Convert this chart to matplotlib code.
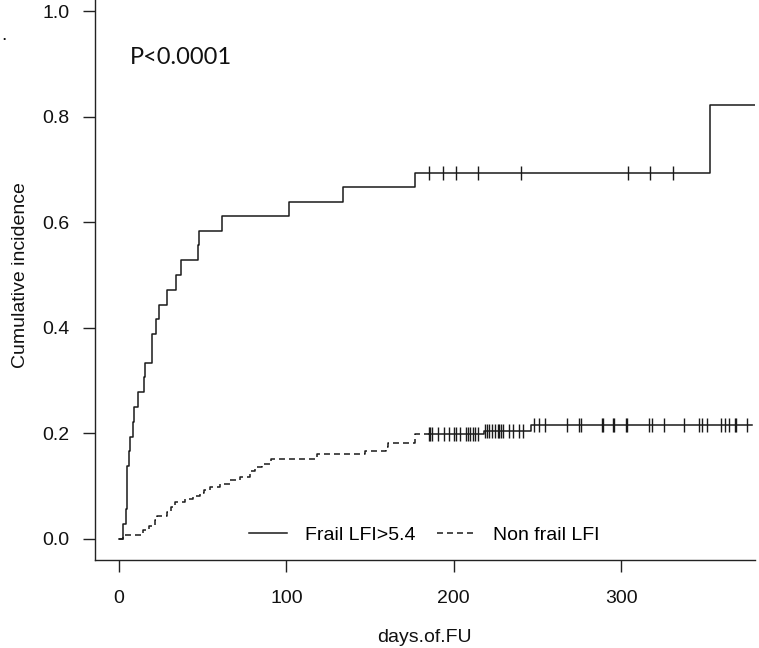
import numpy as np
import matplotlib
matplotlib.use("Agg")
import matplotlib.pyplot as plt

# ---- data ----
frail_times = [0, 2.7, 4.4, 5.1, 6.3, 6.9, 8.1, 9.1, 11.1, 14.7, 15.4, 19.7, 22.0, 23.7,
               28.7, 34.1, 36.9, 47.1, 47.9, 61.8, 101.7, 133.6, 176.6, 352.8, 385]
frail_cuminc = [0, 0.028, 0.056, 0.139, 0.167, 0.194, 0.222, 0.250, 0.278, 0.306, 0.333,
                0.389, 0.417, 0.444, 0.472, 0.500, 0.528, 0.556, 0.583, 0.611, 0.639,
                0.667, 0.694, 0.822, 0.822]
frail_censor = [185.1, 193.4, 201.4, 214.5, 239.9, 303.9, 317.0, 330.9]

nonfrail_times = [0, 2.7, 14.3, 18.2, 21.6, 23.0, 28.5, 31.0, 33.6, 39.5, 44.0, 48.5, 51.0,
                  54.4, 60.4, 66.3, 72.3, 78.3, 81.2, 85.2, 90.6, 118.4, 147.2, 159.7,
                  160.7, 176.6, 218.0, 246.0, 378]
nonfrail_cuminc = [0, 0.007, 0.016, 0.025, 0.035, 0.044, 0.051, 0.060, 0.069, 0.076, 0.082,
                   0.087, 0.092, 0.099, 0.104, 0.112, 0.118, 0.129, 0.136, 0.142, 0.152,
                   0.160, 0.166, 0.174, 0.181, 0.198, 0.205, 0.216, 0.216]
nonfrail_censor = [185.1, 185.9, 186.9, 190.5, 193.9, 197.0, 200.4, 201.2, 204.0, 207.2,
                   208.4, 209.8, 211.3, 212.9, 214.3, 218.9, 219.7, 221.3, 222.9, 224.9,
                   226.2, 227.2, 228.2, 229.2, 232.8, 235.2, 238.7, 241.5, 248.1, 251.1,
                   254.5, 267.9, 274.9, 275.9, 288.4, 289.2, 294.8, 295.8, 303.1, 303.7,
                   316.6, 318.6, 325.6, 337.5, 346.4, 348.0, 351.4, 359.4, 361.9, 364.3,
                   367.9, 368.6, 375.2]

group_labels = ["Frail LFI>5.4", "Non frail LFI"]
x_ticks = [0, 100, 200, 300]
y_ticks = [0.0, 0.2, 0.4, 0.6, 0.8, 1.0]
x_label = "days.of.FU"
y_label = "Cumulative incidence"
p_text = "P<0.0001"

# ---- figure ----
W, H = 759, 648
plt.rcParams['font.family'] = ['Liberation Sans', 'DejaVu Sans']
plt.rcParams['lines.scale_dashes'] = False
fig = plt.figure(figsize=(W / 100, H / 100), dpi=100)

left_px, right_px = 94.5, 754.5
bottom_px, top_px = 560.0, -10.0
ax = fig.add_axes([left_px / W, 1 - bottom_px / H,
                   (right_px - left_px) / W, (bottom_px - top_px) / H])

col = '#1a1a1a'
dash = (4.3, 2.9)

def censor_y(times, vals, cens):
    idx = np.searchsorted(np.asarray(times), np.asarray(cens), side='right') - 1
    return np.asarray(vals)[idx]

l1, = ax.step(frail_times, frail_cuminc, where='post', color=col, lw=1.1)
ax.plot(frail_censor, censor_y(frail_times, frail_cuminc, frail_censor), ls='none',
        marker='|', ms=10, mew=1.0, color=col)

# non-frail: dashed until the first censoring, where the dense marks make the
# reference line read as continuous
nt = np.asarray(nonfrail_times, dtype=float)
nv = np.asarray(nonfrail_cuminc, dtype=float)
c0 = min(nonfrail_censor)
k = np.searchsorted(nt, c0, side='right')
t_a = np.append(nt[:k], c0)
v_a = np.append(nv[:k], nv[k - 1])
t_b = np.insert(nt[k:], 0, c0)
v_b = np.insert(nv[k:], 0, nv[k - 1])
l2, = ax.step(t_a, v_a, where='post', color=col, lw=1.1, dashes=dash)
ax.step(t_b, v_b, where='post', color=col, lw=1.1)
ax.plot(nonfrail_censor, censor_y(nonfrail_times, nonfrail_cuminc, nonfrail_censor),
        ls='none', marker='|', ms=10, mew=1.0, color=col)

ax.set_xlim(-14.6, 379.6)
ax.set_ylim(-0.04, 1.04)
ax.set_xticks(x_ticks)
ax.set_xticklabels([str(t) for t in x_ticks])
ax.set_yticks(y_ticks)
ax.set_yticklabels([f"{t:.1f}" for t in y_ticks])
for s in ['top', 'right']:
    ax.spines[s].set_visible(False)
for s in ['left', 'bottom']:
    ax.spines[s].set_linewidth(1.0)
    ax.spines[s].set_color('#222222')
ax.tick_params(axis='both', direction='out', length=8.3, width=1.0, colors='#222222',
               labelsize=14, labelcolor='#111111')
ax.tick_params(axis='x', pad=13)
ax.tick_params(axis='y', pad=9.5)

fig.text(424.5 / W, 1 - 641.7 / H, x_label, ha='center', va='baseline', fontsize=14,
         color='#111111')
fig.text(21 / W, 1 - 275 / H, y_label, ha='center', va='center', rotation=90,
         fontsize=14, color='#111111')
fig.text(130 / W, 1 - 64 / H, p_text, ha='left', va='baseline', fontsize=17,
         family=['Lato', 'DejaVu Sans'], color='#111111')
fig.text(3.5 / W, 1 - 40.5 / H, ".", ha='center', va='baseline', fontsize=14,
         color='#111111')

ax.legend([l1, l2], group_labels, loc='center left',
          bbox_to_anchor=(249 / W, 1 - 535 / H), bbox_transform=fig.transFigure,
          frameon=False, ncol=2, fontsize=14, handlelength=1.95, handletextpad=0.93,
          columnspacing=1.13, borderpad=0, borderaxespad=0)

fig.savefig("out.png", dpi=100)
